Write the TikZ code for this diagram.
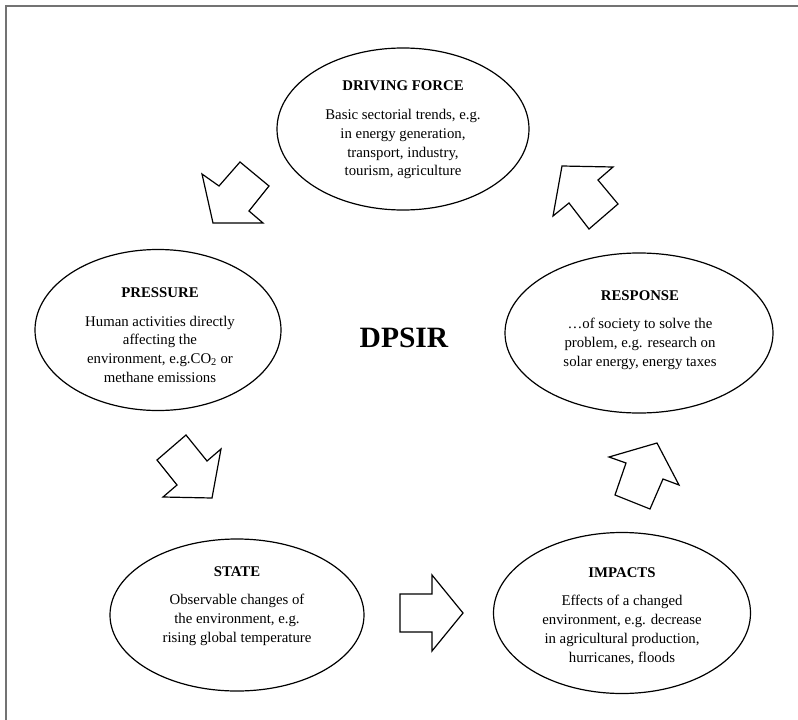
\documentclass[tikz,border=0pt]{standalone}
\usepackage{fontspec}
\setmainfont{Liberation Serif}
\usetikzlibrary{shapes.geometric}
\tikzset{
  oval/.style={draw=black, line width=1.2pt, ellipse, inner sep=0pt},
  txt/.style={align=center, font=\fontsize{14.8}{18.8}\selectfont, text=black},
  blockarrow/.style={draw=black, line width=1.2pt, line join=miter, fill=white},
  frameline/.style={draw=black!55, line width=1.4pt}
}
\newcommand{\ttl}[1]{\textbf{#1}\\[10pt]}
\begin{document}
\begin{tikzpicture}[x=1pt,y=-1pt]
\useasboundingbox (0,0) rectangle (798,720);
% frame
\draw[frameline] (6,720) -- (6,6) -- (798,6);
% ellipses
\node[oval, minimum width=252pt, minimum height=162pt] (df) at (403,129) {};
\node[oval, minimum width=246pt, minimum height=161pt] (pr) at (158,330) {};
\node[oval, minimum width=268pt, minimum height=160pt] (re) at (639,333) {};
\node[oval, minimum width=254pt, minimum height=152pt] (st) at (237,615) {};
\node[oval, minimum width=257pt, minimum height=161pt] (im) at (622,613) {};
% texts
\node[txt] (dft) at (403,130) {\ttl{DRIVING FORCE}Basic sectorial trends, e.g.\\in energy generation,\\transport, industry,\\tourism, agriculture};
\node[txt] (prt) at (160,335) {\ttl{PRESSURE}Human activities directly\\affecting the\\environment, e.g.CO\textsubscript{2} or\\methane emissions};
\node[txt] (ret) at (640,330) {\ttl{RESPONSE}…of society to solve the\\problem, e.g. research on\\solar energy, energy taxes};
\node[txt] (stt) at (237,606) {\ttl{STATE}Observable changes of\\the environment, e.g.\\rising global temperature};
\node[txt] (imt) at (622,616) {\ttl{IMPACTS}Effects of a changed\\environment, e.g. decrease\\in agricultural production,\\hurricanes, floods};
\node[font=\bfseries\fontsize{29.5}{34}\selectfont] (dpsir) at (404,338) {DPSIR};
% block arrows
\draw[blockarrow] (202,174) -- (219,186) -- (240,162) -- (269,186) -- (249,211) -- (263,223) -- (213,223) -- cycle;
\draw[blockarrow] (562,166) -- (613,167) -- (598,180) -- (618,204) -- (589,229) -- (569,203) -- (553,216) -- cycle;
\draw[blockarrow] (186,435) -- (207,461) -- (221,449) -- (212,498) -- (163,497) -- (177,485) -- (157,460) -- cycle;
\draw[blockarrow] (657,443) -- (679,485) -- (663,479) -- (650,509) -- (615,495) -- (626,463) -- (609,457) -- cycle;
\draw[blockarrow] (400,594) -- (432,594) -- (432,575) -- (463,613) -- (432,651) -- (432,632) -- (400,632) -- cycle;
\end{tikzpicture}
\end{document}
